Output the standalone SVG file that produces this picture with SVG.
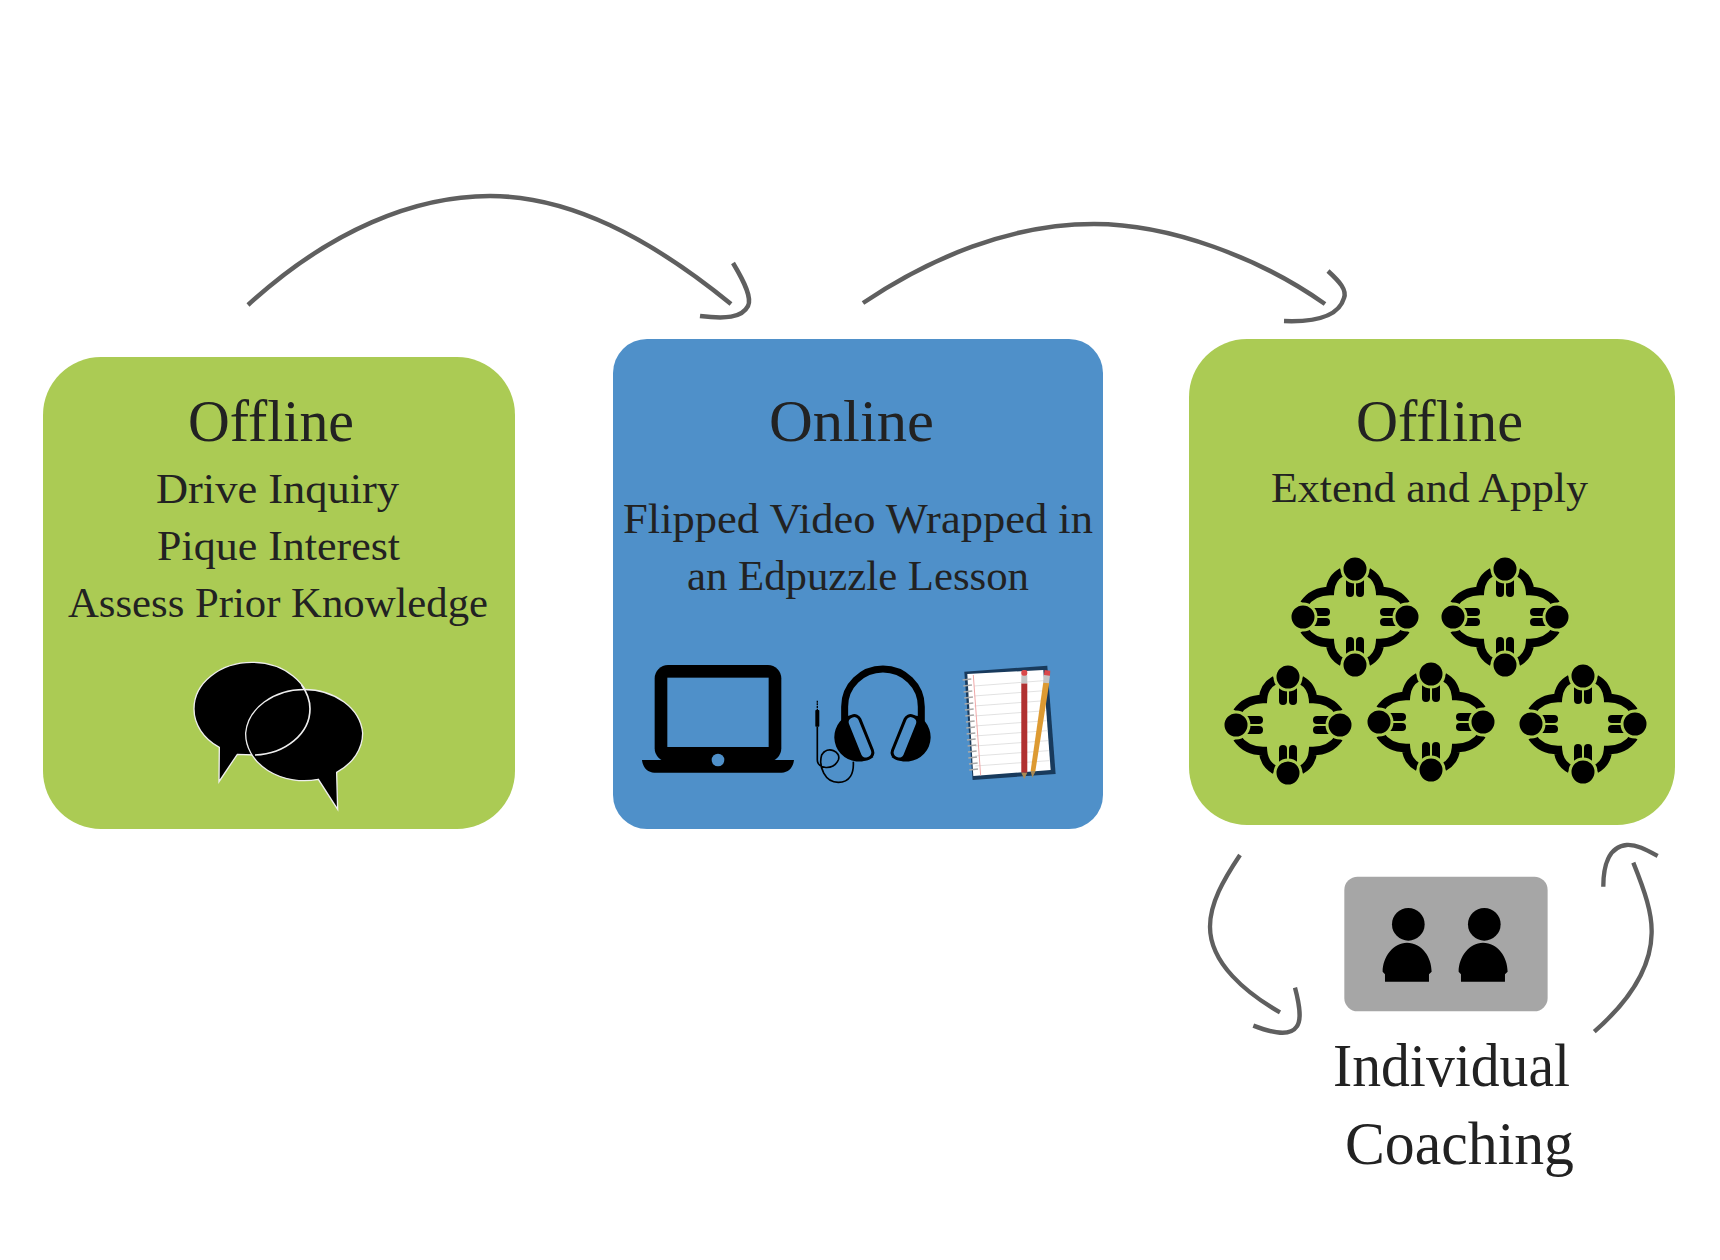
<svg xmlns="http://www.w3.org/2000/svg" width="1720" height="1260" viewBox="0 0 1720 1260">
<style>
.t{font-family:"Liberation Serif","Noto Sans CJK SC",serif;fill:#222;text-anchor:start}
.h{font-size:60px}.b{font-size:42px}.c{font-size:62px}
.conn{fill:none;stroke:#5f5f5f;stroke-width:4.5}
.bub{fill:#000;stroke:#eee;stroke-width:4}
.notes{fill:none;stroke:#e2e2e2;stroke-width:3}
</style>
<defs>
<g id="circle-group">
<g fill="none" stroke="#000" stroke-width="8.5">
<path d="M13,-45 Q24,-39 25,-26 Q42,-26 51,-13"/>
<path d="M-13,-45 Q-24,-39 -25,-26 Q-42,-26 -51,-13"/>
<path d="M13,45 Q24,39 25,26 Q42,26 51,13"/>
<path d="M-13,45 Q-24,39 -25,26 Q-42,26 -51,13"/>
</g>
<g fill="#000">
<rect x="-9" y="-42" width="8" height="22" rx="4"/><rect x="1" y="-42" width="8" height="22" rx="4"/>
<rect x="-9" y="20" width="8" height="22" rx="4"/><rect x="1" y="20" width="8" height="22" rx="4"/>
<rect x="-46" y="-9" width="21" height="8" rx="4"/><rect x="-46" y="1" width="21" height="8" rx="4"/>
<rect x="25" y="-9" width="21" height="8" rx="4"/><rect x="25" y="1" width="21" height="8" rx="4"/>
</g>
<g fill="#000" stroke="#abcb54" stroke-width="3">
<circle cx="0" cy="-48" r="13"/><circle cx="0" cy="48" r="13"/><circle cx="-52" cy="0" r="13"/><circle cx="52" cy="0" r="13"/>
</g>
</g>
<g id="person">
<circle cx="655" cy="283" r="49" fill="#000"/>
<path d="M578,425 C578,380 610,338 651,338 C695,338 725,380 725,425 L717,433 V455 H585 V433 Z" fill="#000"/>
</g>
</defs>
<rect width="1720" height="1260" fill="#fff"/>

<g id="connectors">
<path class="conn" d="M248,305 C330,230 415,196 490,196 C570,196 650,238 731,304"/>
<path class="conn" d="M733,263 C745,283 752,298 748,306 C742,318 725,319 700,316"/>
<path class="conn" d="M863,303 C930,258 1010,224 1094,224 C1170,224 1260,258 1325,304"/>
<path class="conn" d="M1328,271 C1340,282 1347,290 1344,298 C1338,319 1310,322 1284,321"/>
<g transform="translate(1190,830) scale(0.3333)">
<path class="conn" style="stroke-width:13" d="M150,75 C100,150 60,220 60,290 C60,400 170,490 270,547"/>
<path class="conn" style="stroke-width:13" d="M315,473 C330,530 335,570 320,590 C300,620 250,610 190,587"/>
<path class="conn" style="stroke-width:13" d="M1330,98 C1365,185 1387,250 1385,310 C1383,420 1310,520 1213,605"/>
<path class="conn" style="stroke-width:13" d="M1240,170 C1240,110 1255,50 1310,45 C1340,43 1370,60 1403,78"/>
</g>
</g>

<g id="node-offline-1">
<rect x="43" y="357" width="472" height="472" rx="58" fill="#abcb54"/>
<text class="t h" x="188" y="441" textLength="166" lengthAdjust="spacingAndGlyphs">Offline</text>
<text class="t b" x="156" y="503" textLength="243" lengthAdjust="spacingAndGlyphs">Drive Inquiry</text>
<text class="t b" x="157" y="560" textLength="243" lengthAdjust="spacingAndGlyphs">Pique Interest</text>
<text class="t b" x="68" y="617" textLength="420" lengthAdjust="spacingAndGlyphs">Assess Prior Knowledge</text>
<g id="speech-icon" transform="translate(160,640) scale(0.3333)">
<path class="bub" d="M178,322 A174,139 0 0 1 102,206 A174,139 0 0 1 450,206 A174,139 0 0 1 285,345 L232,343 L177,425 Z"/>
<path class="bub" d="M530,397 A176,141 0 0 0 608,279 A176,141 0 0 0 257,279 A176,141 0 0 0 475,418 L533,508 Z"/>
<path d="M425,135 Q450,170 450,206 A174,139 0 0 1 285,345" fill="none" stroke="#eee" stroke-width="5"/>
</g>
</g>

<g id="node-online">
<rect x="613" y="339" width="490" height="490" rx="34" fill="#4f90c9"/>
<text class="t h" x="769" y="441" textLength="165" lengthAdjust="spacingAndGlyphs">Online</text>
<text class="t b" x="623" y="533" textLength="470" lengthAdjust="spacingAndGlyphs">Flipped Video Wrapped in</text>
<text class="t b" x="687" y="590" textLength="342" lengthAdjust="spacingAndGlyphs">an Edpuzzle Lesson</text>
<g id="device-icons" transform="translate(620,650) scale(0.3333)">
<rect x="104" y="45" width="380" height="290" rx="40" fill="#000"/>
<rect x="142" y="83" width="304" height="208" fill="#4f90c9"/>
<path d="M66,330 H522 C520,352 505,368 485,368 H103 C83,368 68,352 66,330 Z" fill="#000"/>
<circle cx="294" cy="330" r="19" fill="#4f90c9"/>
<path d="M674,215 V170 A114,112 0 0 1 904,170 V215" fill="none" stroke="#000" stroke-width="21"/>
<path d="M680,198 A73,73 0 0 0 735,332 L760,322 L705,195 Z" fill="#000"/>
<path d="M895,198 A73,73 0 0 1 840,332 L815,322 L870,195 Z" fill="#000"/>
<rect x="-20" y="-68" width="40" height="136" rx="18" transform="translate(720,262) rotate(-22)" fill="#4f90c9" stroke="#000" stroke-width="9"/>
<rect x="-20" y="-68" width="40" height="136" rx="18" transform="translate(855,262) rotate(22)" fill="#4f90c9" stroke="#000" stroke-width="9"/>
<path d="M592,230 V330 C592,358 640,362 655,330 C665,305 622,285 605,315 C595,350 615,397 655,397 C690,397 702,370 700,335" fill="none" stroke="#000" stroke-width="5"/>
<rect x="586" y="180" width="12" height="50" rx="2" fill="#000"/>
<path d="M592,152 V180" stroke="#000" stroke-width="4" stroke-dasharray="6 2"/>
<polygon points="1033,65 1282,47 1307,372 1058,390" fill="#183a5c"/>
<polygon points="1042,72 1270,60 1292,360 1060,378" fill="#fff"/>
<path class="notes" d="M1062,108 L1272,92 M1062,138 L1274,122 M1063,168 L1276,152 M1063,198 L1278,182 M1064,228 L1280,212 M1064,258 L1282,242 M1065,288 L1284,272 M1065,318 L1286,302 M1066,348 L1288,332"/>
<path d="M1060,75 L1082,376" stroke="#f0a8a8" stroke-width="3" fill="none"/>
<path d="M1028,90 L1054,87 M1030,108 L1056,105 M1031,126 L1057,123 M1033,144 L1059,141 M1034,162 L1060,159 M1035,180 L1061,177 M1036,198 L1062,195 M1038,216 L1064,213 M1039,234 L1065,231 M1040,252 L1066,249 M1041,270 L1067,267 M1043,288 L1069,285 M1044,306 L1070,303 M1045,324 L1071,321 M1047,342 L1073,339 M1048,360 L1074,357" stroke="#a8a8a8" stroke-width="5" fill="none"/>
<rect x="1204" y="100" width="18" height="268" fill="#b03030"/>
<rect x="1204" y="76" width="18" height="24" fill="#c4c4c4"/>
<rect x="1204" y="60" width="18" height="17" rx="6" fill="#d9484a"/>
<polygon points="1204,368 1222,368 1213,387" fill="#a98a55"/>
<polygon points="1270,97 1288,99 1246,365 1232,363" fill="#dd9a32"/>
<polygon points="1272,74 1290,76 1287,100 1269,98" fill="#c4c4c4"/>
<polygon points="1274,60 1291,62 1290,77 1272,75" fill="#d9484a"/>
<polygon points="1232,363 1246,365 1237,383" fill="#a98a55"/>
</g>
</g>

<g id="node-offline-2">
<rect x="1189" y="339" width="486" height="486" rx="58" fill="#abcb54"/>
<text class="t h" x="1356" y="441" textLength="167" lengthAdjust="spacingAndGlyphs">Offline</text>
<text class="t b" x="1271" y="502" textLength="317" lengthAdjust="spacingAndGlyphs">Extend and Apply</text>
<use href="#circle-group" x="1355" y="617"/>
<use href="#circle-group" x="1505" y="617"/>
<use href="#circle-group" x="1288" y="725"/>
<use href="#circle-group" x="1431" y="722"/>
<use href="#circle-group" x="1583" y="724"/>
</g>

<g id="node-coaching">
<g transform="translate(1190,830) scale(0.3333)">
<rect x="463" y="140" width="610" height="404" rx="40" fill="#a6a6a6"/>
<use href="#person"/>
<use href="#person" x="228"/>
</g>
<text class="t c" x="1333" y="1086" textLength="237" lengthAdjust="spacingAndGlyphs">Individual</text>
<text class="t c" x="1345" y="1164" textLength="229" lengthAdjust="spacingAndGlyphs">Coaching</text>
</g>
</svg>
